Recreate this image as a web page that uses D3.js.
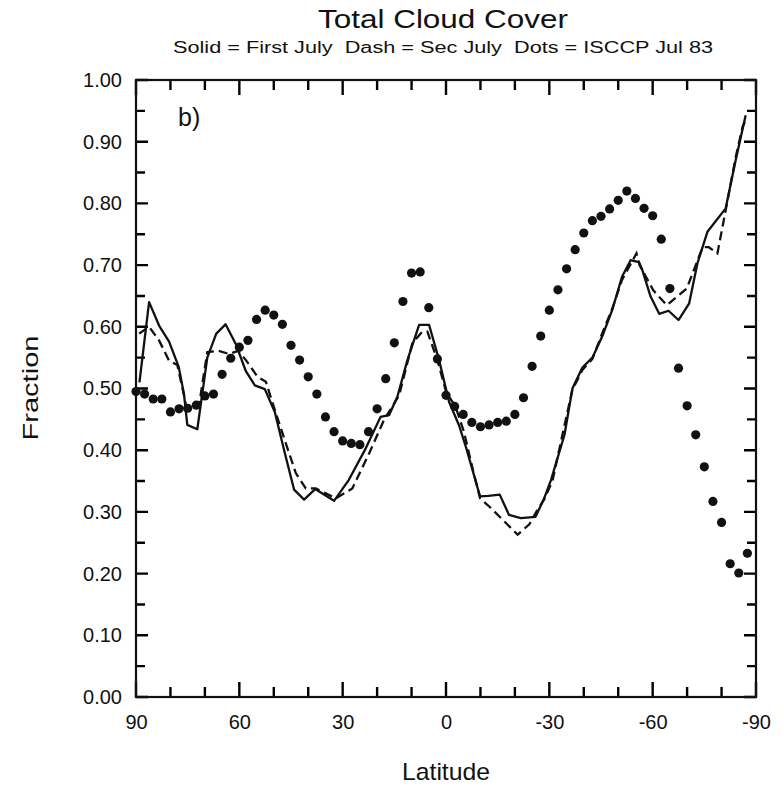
<!DOCTYPE html>
<html>
<head>
<meta charset="utf-8">
<script src="https://cdn.jsdelivr.net/npm/d3@7"></script>
<style>
  body { margin: 0; background: #fff; }
  text { font-family: "Liberation Sans", "DejaVu Sans", sans-serif; fill: #111; }
</style>
</head>
<body>
<div id="chart"></div>
<script>
// ISCCP Jul 83 (dots), one value every 2.5 deg
var dotLat = [90, 87.5, 85, 82.5, 80, 77.5, 75, 72.5, 70, 67.5, 65, 62.5, 60, 57.5, 55, 52.5,
  50, 47.5, 45, 42.5, 40, 37.5, 35, 32.5, 30, 27.5, 25, 22.5, 20, 17.5, 15, 12.5, 10, 7.5, 5, 2.5,
  0, -2.5, -5, -7.5, -10, -12.5, -15, -17.5, -20, -22.5, -25, -27.5, -30, -32.5, -35, -37.5,
  -40, -42.5, -45, -47.5, -50, -52.5, -55, -57.5, -60, -62.5, -65, -67.5, -70, -72.5, -75,
  -77.5, -80, -82.5, -85, -87.5];
var dotVal = [0.495, 0.491, 0.483, 0.483, 0.462, 0.467, 0.468, 0.473, 0.488, 0.491, 0.523, 0.549,
  0.567, 0.578, 0.612, 0.627, 0.619, 0.604, 0.570, 0.546, 0.519, 0.491, 0.454, 0.430, 0.415,
  0.411, 0.409, 0.430, 0.467, 0.516, 0.574, 0.641, 0.687, 0.689, 0.631, 0.548, 0.489, 0.471,
  0.458, 0.445, 0.438, 0.441, 0.445, 0.447, 0.458, 0.485, 0.536, 0.585, 0.627, 0.660, 0.694,
  0.725, 0.752, 0.772, 0.779, 0.791, 0.805, 0.820, 0.808, 0.792, 0.780, 0.742, 0.662, 0.533,
  0.472, 0.425, 0.373, 0.317, 0.283, 0.216, 0.201, 0.233];

// First July (solid)
var solidLat = [89.0, 86.2, 83.3, 80.4, 77.6, 76.1, 75.1, 72.2, 69.3, 66.7, 64.0, 61.1, 58.1,
  55.5, 52.6, 49.7, 47.0, 44.1, 41.2, 38.0, 32.5, 28.2, 23.3, 19.0, 16.5, 14.1, 11.2, 7.8, 4.9,
  2.0, -0.9, -3.8, -5.8, -9.9, -12.3, -15.6, -18.3, -21.7, -26.0, -28.5, -30.5, -34.4, -36.7,
  -39.6, -42.5, -45.4, -48.3, -51.1, -53.6, -56.0, -57.0, -59.4, -61.9, -64.6, -67.5, -70.6,
  -73.0, -75.9, -81.2, -84.1, -87.0];
var solidVal = [0.510, 0.640, 0.602, 0.576, 0.535, 0.492, 0.441, 0.434, 0.550, 0.589, 0.604,
  0.573, 0.528, 0.505, 0.499, 0.462, 0.400, 0.336, 0.320, 0.337, 0.318, 0.352, 0.403, 0.454,
  0.457, 0.487, 0.546, 0.603, 0.603, 0.546, 0.478, 0.440, 0.405, 0.325, 0.326, 0.328, 0.295,
  0.290, 0.292, 0.322, 0.352, 0.425, 0.500, 0.534, 0.550, 0.585, 0.628, 0.681, 0.708, 0.705,
  0.692, 0.649, 0.621, 0.626, 0.611, 0.638, 0.703, 0.754, 0.792, 0.870, 0.943];

// Sec July (dash)
var dashLat = [89.1, 86.2, 83.3, 80.4, 78.0, 76.1, 75.4, 71.7, 69.3, 66.0, 63.0, 60.3, 58.1,
  54.7, 52.3, 49.4, 46.5, 43.6, 40.7, 37.8, 34.9, 32.0, 27.2, 22.3, 18.0, 13.6, 9.8, 6.9, 5.4,
  2.5, 0.0, -2.8, -5.2, -7.9, -9.9, -12.7, -16.5, -20.8, -24.2, -26.5, -28.5, -30.9, -33.8,
  -36.7, -39.6, -42.5, -45.4, -48.3, -51.1, -55.3, -56.2, -60.2, -64.1, -69.9, -74.5, -76.3,
  -78.8, -81.2, -84.1, -86.1, -87.0];
var dashVal = [0.589, 0.600, 0.578, 0.545, 0.538, 0.490, 0.470, 0.473, 0.559, 0.561, 0.556,
  0.561, 0.546, 0.519, 0.511, 0.460, 0.411, 0.363, 0.338, 0.338, 0.330, 0.322, 0.338, 0.395,
  0.449, 0.489, 0.573, 0.592, 0.592, 0.546, 0.495, 0.470, 0.430, 0.366, 0.322, 0.308, 0.287,
  0.263, 0.280, 0.303, 0.320, 0.350, 0.425, 0.498, 0.530, 0.548, 0.590, 0.630, 0.676, 0.719,
  0.700, 0.659, 0.635, 0.662, 0.729, 0.729, 0.719, 0.789, 0.875, 0.924, 0.935];

// tick labels and minor tick positions
var xTicks = [90, 60, 30, 0, -30, -60, -90];
var xMinor = [80, 70, 50, 40, 20, 10, -10, -20, -40, -50, -70, -80];
var yTicks = [0, 0.1, 0.2, 0.3, 0.4, 0.5, 0.6, 0.7, 0.8, 0.9, 1.0];
var yMinor = [0.05, 0.15, 0.25, 0.35, 0.45, 0.55, 0.65, 0.75, 0.85, 0.95];

var margin = {top: 80, right: 28, bottom: 90, left: 136},
    width = 784 - margin.left - margin.right,
    height = 787 - margin.top - margin.bottom;

var svg = d3.select("#chart")
  .append("svg")
  .attr("width", 784)
  .attr("height", 787);

var g = svg.append("g")
  .attr("transform", "translate(" + margin.left + "," + margin.top + ")");

var x = d3.scaleLinear().domain([90, -90]).range([0, width]);
var y = d3.scaleLinear().domain([0, 1]).range([height, 0]);

// labels only from the axes, tick marks drawn as one path below
function styleAxis(sel) {
  sel.select(".domain").remove();
  sel.selectAll(".tick line").remove();
  sel.selectAll(".tick text")
    .style("font-family", "'Liberation Sans', 'DejaVu Sans', sans-serif")
    .style("font-size", "20px")
    .attr("fill", "#111");
}

g.append("g")
  .attr("transform", "translate(0," + height + ")")
  .call(d3.axisBottom(x).tickValues(xTicks).tickSize(0).tickPadding(18)
    .tickFormat(function(d) { return String(d); }))
  .call(styleAxis);

g.append("g")
  .call(d3.axisLeft(y).tickValues(yTicks).tickSize(0).tickPadding(14)
    .tickFormat(d3.format(".2f")))
  .call(styleAxis);

// inward ticks on all four sides
var tickPath = d3.path();
function xTickMarks(vals, len) {
  vals.forEach(function(d) {
    tickPath.moveTo(x(d), height); tickPath.lineTo(x(d), height - len);
    tickPath.moveTo(x(d), 0); tickPath.lineTo(x(d), len);
  });
}
function yTickMarks(vals, len) {
  vals.forEach(function(d) {
    tickPath.moveTo(0, y(d)); tickPath.lineTo(len, y(d));
    tickPath.moveTo(width, y(d)); tickPath.lineTo(width - len, y(d));
  });
}
xTickMarks(xTicks, 15);
xTickMarks(xMinor, 10);
yTickMarks(yTicks, 12);
yTickMarks(yMinor, 9);

g.append("path")
  .attr("d", tickPath.toString())
  .attr("fill", "none")
  .attr("stroke", "#000")
  .attr("stroke-width", 2.4);

// frame
g.append("rect")
  .attr("width", width)
  .attr("height", height)
  .attr("fill", "none")
  .attr("stroke", "#111")
  .attr("stroke-width", 2.2);

var line = d3.line()
  .x(function(d) { return x(d[0]); })
  .y(function(d) { return y(d[1]); });

g.append("path")
  .datum(d3.zip(solidLat, solidVal))
  .attr("d", line)
  .attr("fill", "none")
  .attr("stroke", "#111")
  .attr("stroke-width", 2.3)
  .attr("stroke-linejoin", "round");

g.append("path")
  .datum(d3.zip(dashLat, dashVal))
  .attr("d", line)
  .attr("fill", "none")
  .attr("stroke", "#111")
  .attr("stroke-width", 2.3)
  .attr("stroke-dasharray", "9,5");

g.selectAll(".dot")
  .data(d3.zip(dotLat, dotVal))
  .enter().append("circle")
  .attr("class", "dot")
  .attr("cx", function(d) { return x(d[0]); })
  .attr("cy", function(d) { return y(d[1]); })
  .attr("r", 4.6)
  .attr("fill", "#111");

// panel letter
g.append("text")
  .attr("x", 42)
  .attr("y", 46)
  .style("font-size", "25px")
  .text("b)");

// titles
svg.append("text")
  .attr("x", 443)
  .attr("y", 28)
  .attr("text-anchor", "middle")
  .attr("textLength", 250)
  .attr("lengthAdjust", "spacingAndGlyphs")
  .style("font-size", "25px")
  .text("Total Cloud Cover");

svg.append("text")
  .attr("x", 443)
  .attr("y", 53)
  .attr("text-anchor", "middle")
  .attr("textLength", 540)
  .attr("lengthAdjust", "spacingAndGlyphs")
  .style("font-size", "16px")
  .style("white-space", "pre")
  .text("Solid = First July  Dash = Sec July  Dots = ISCCP Jul 83");

// axis titles
svg.append("text")
  .attr("x", 446)
  .attr("y", 780)
  .attr("text-anchor", "middle")
  .attr("textLength", 88)
  .attr("lengthAdjust", "spacingAndGlyphs")
  .style("font-size", "24px")
  .text("Latitude");

svg.append("text")
  .attr("transform", "translate(38,388) rotate(-90)")
  .attr("text-anchor", "middle")
  .attr("textLength", 105)
  .attr("lengthAdjust", "spacingAndGlyphs")
  .style("font-size", "22px")
  .text("Fraction");
</script>
</body>
</html>
